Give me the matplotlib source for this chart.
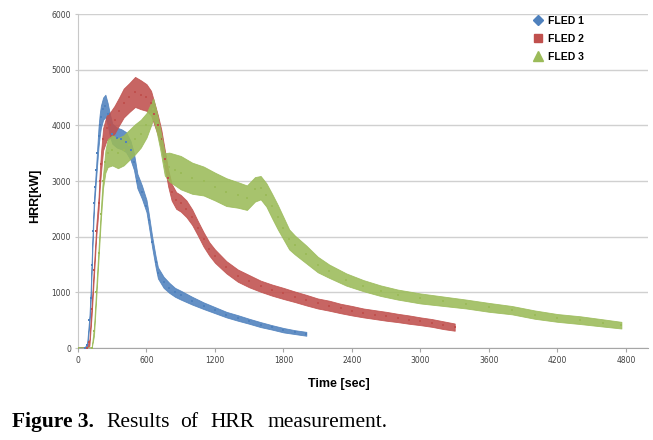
import matplotlib
matplotlib.use("Agg")
import matplotlib.pyplot as plt
from matplotlib.lines import Line2D
import numpy as np

# values (time in sec, HRR in kW, spread = half width of the scatter band)
fled1_t = [0, 60, 80, 100, 110, 120, 130, 140, 150, 160, 170, 180, 190, 200, 220, 240, 260, 280,
           300, 340, 380, 420, 460, 490, 520, 560, 600, 620, 650, 680, 700, 750, 800, 850, 900,
           1000, 1100, 1200, 1300, 1400, 1500, 1600, 1700, 1800, 1900, 2000]
fled1_hrr = [0, 0, 50, 500, 900, 1500, 2100, 2600, 2900, 3200, 3500, 3800, 4000, 4150, 4300, 4350,
             4200, 4000, 3850, 3780, 3750, 3700, 3550, 3350, 3000, 2800, 2550, 2300, 1900, 1550,
             1350, 1180, 1080, 1000, 950, 850, 760, 680, 600, 540, 480, 420, 370, 320, 285, 255]
fled1_spread = [15, 15, 40, 80, 100, 100, 100, 100, 100, 120, 150, 180, 200, 200, 200, 200, 200,
                200, 180, 180, 180, 180, 170, 150, 130, 120, 110, 110, 100, 100, 100, 100, 90, 80,
                80, 70, 60, 55, 50, 50, 45, 45, 40, 40, 35, 35]

fled2_t = [0, 80, 100, 120, 140, 160, 180, 190, 200, 220, 250, 280, 320, 360, 400, 450, 500, 550,
           600, 640, 670, 700, 730, 760, 790, 820, 860, 900, 950, 1000, 1050, 1100, 1150, 1200,
           1300, 1400, 1500, 1600, 1700, 1800, 1900, 2000, 2100, 2200, 2300, 2400, 2500, 2600,
           2700, 2800, 2900, 3000, 3100, 3200, 3300]
fled2_hrr = [0, 0, 100, 700, 1400, 2100, 2600, 3000, 3300, 3750, 3950, 4000, 4100, 4250, 4400,
             4500, 4600, 4550, 4500, 4400, 4200, 4000, 3750, 3400, 3050, 2800, 2650, 2600, 2500,
             2350, 2150, 1950, 1780, 1650, 1450, 1300, 1200, 1110, 1040, 980, 920, 860, 800, 760,
             710, 670, 630, 600, 570, 540, 510, 480, 450, 410, 375]
fled2_spread = [15, 15, 60, 100, 100, 100, 120, 150, 180, 200, 220, 230, 250, 250, 260, 260, 270,
                260, 240, 220, 200, 180, 170, 160, 150, 150, 150, 150, 150, 140, 130, 130, 120,
                120, 110, 110, 110, 100, 100, 100, 95, 95, 90, 90, 85, 85, 80, 80, 80, 75, 75, 70,
                70, 70, 65]

fled3_t = [0, 120, 140, 160, 180, 200, 220, 240, 260, 300, 350, 400, 450, 500, 550, 600, 640, 660,
           690, 720, 760, 800, 850, 900, 1000, 1100, 1200, 1300, 1400, 1480, 1550, 1600, 1650,
           1700, 1750, 1800, 1850, 1900, 2000, 2100, 2200, 2350, 2500, 2650, 2800, 3000, 3200,
           3400, 3600, 3800, 4000, 4200, 4400, 4600, 4760]
fled3_hrr = [0, 0, 300, 1000, 1700, 2400, 3000, 3350, 3500, 3550, 3500, 3550, 3650, 3750, 3850,
             4000, 4200, 4300, 4050, 3750, 3300, 3250, 3200, 3150, 3050, 3000, 2900, 2800, 2750,
             2700, 2850, 2880, 2750, 2550, 2350, 2150, 1950, 1850, 1680, 1500, 1380, 1230, 1120,
             1030, 960, 890, 840, 790, 730, 680, 600, 540, 500, 450, 410]
fled3_spread = [15, 15, 80, 100, 100, 100, 120, 200, 250, 270, 270, 270, 270, 270, 250, 220, 200,
                180, 180, 180, 200, 260, 280, 300, 280, 260, 250, 250, 230, 220, 220, 210, 210,
                220, 220, 200, 180, 170, 160, 140, 120, 110, 100, 95, 90, 90, 85, 80, 80, 75, 75,
                70, 70, 65, 60]

series = [
    ("FLED 1", fled1_t, fled1_hrr, fled1_spread, "#4F81BD", "D"),
    ("FLED 2", fled2_t, fled2_hrr, fled2_spread, "#C0504D", "s"),
    ("FLED 3", fled3_t, fled3_hrr, fled3_spread, "#9BBB59", "^"),
]

fig = plt.figure(figsize=(6.53, 4.40), dpi=100)
ax = fig.add_axes([78 / 653, 92 / 440, 570 / 653, 334 / 440])

for name, t, hrr, spread, color, marker in series:
    t = np.array(t)
    hrr = np.array(hrr)
    spread = np.array(spread)
    lo = np.clip(hrr - spread, 0, None)
    hi = hrr + spread
    # scatter band
    ax.fill_between(t, lo, hi, color=color, alpha=0.88, lw=0.6, ec=color, zorder=2)
    ax.scatter(t, hrr, s=4, marker="s", color=color, lw=0, zorder=3)

ax.set_xlim(0, 4993)
ax.set_ylim(0, 6000)
ax.set_xticks(np.arange(0, 4801, 600))
ax.set_yticks(np.arange(0, 6001, 1000))

ax.grid(axis="y", color="#D0D0D0", lw=1.0)
ax.set_axisbelow(True)
for side in ("top", "right"):
    ax.spines[side].set_visible(False)
ax.spines["left"].set_color("#C8C8C8")
ax.spines["bottom"].set_color("#A6A6A6")
ax.tick_params(axis="x", length=3, width=0.8, color="#A6A6A6", labelsize=5.5,
               labelcolor="#404040", pad=3)
ax.tick_params(axis="y", length=2, width=0.8, color="#C8C8C8", labelsize=5.5,
               labelcolor="#404040", pad=3)

fig.text(35 / 653, 1 - 196 / 440, "HRR[kW]", rotation=90, ha="center", va="center",
         fontsize=9, fontweight="bold", family=["Liberation Sans", "DejaVu Sans"])
fig.text(339 / 653, 1 - 384 / 440, "Time [sec]", ha="center", va="center",
         fontsize=9, fontweight="bold", family=["Liberation Sans", "DejaVu Sans"])

handles = [Line2D([], [], ls="none", marker=m, color=c, markersize=ms, label=n)
           for (n, _, _, _, c, m), ms in zip(series, (5.5, 6, 6.5))]
ax.legend(handles=handles, loc="upper left", bbox_to_anchor=(533 / 653, 1 - 16 / 440),
          bbox_transform=fig.transFigure, frameon=False, borderpad=0, borderaxespad=0,
          handlelength=0.9, handletextpad=0.5, labelspacing=0.75,
          prop={"size": 7.5, "weight": "bold", "family": ["Liberation Sans", "DejaVu Sans"]})

# caption, words spaced out as in the justified original
serif = ["Liberation Serif", "DejaVu Serif"]
base_y = 1 - 427 / 440
fig.text(12 / 653, base_y, "Figure 3.", ha="left", va="baseline", fontsize=15.5,
         fontweight="bold", family=serif)
for word, x in (("Results", 106), ("of", 180), ("HRR", 210), ("measurement.", 268)):
    fig.text(x / 653, base_y, word, ha="left", va="baseline", fontsize=15.5, family=serif)

fig.savefig("out.png", dpi=100)
